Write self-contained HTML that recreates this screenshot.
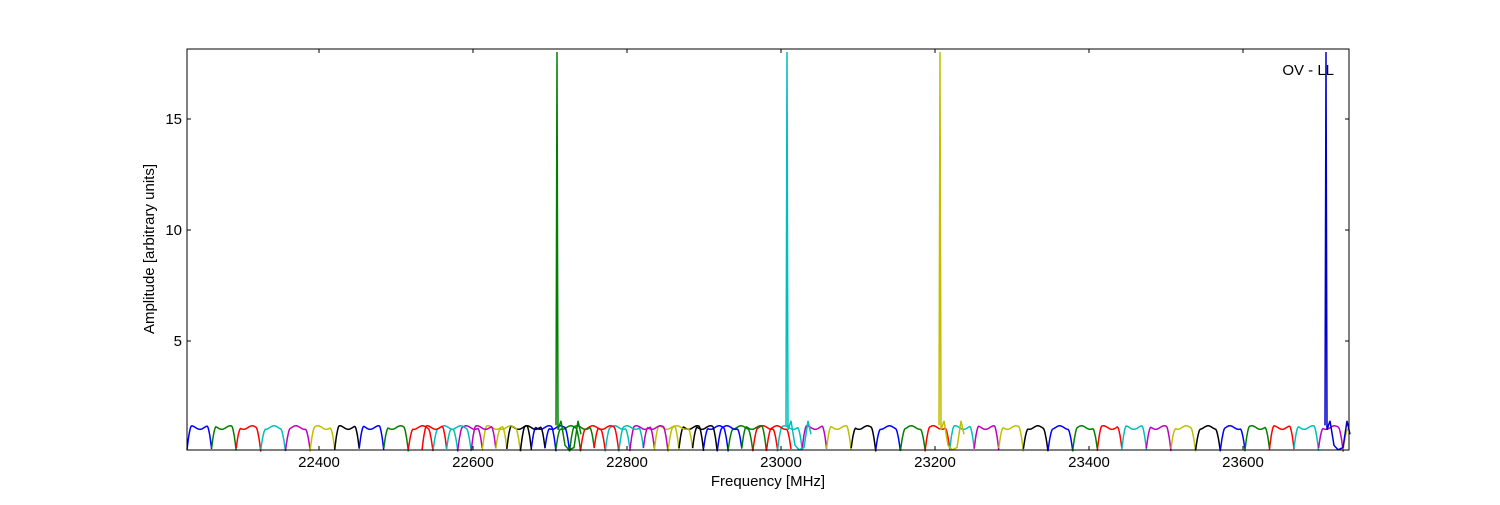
<!DOCTYPE html>
<html><head><meta charset="utf-8"><style>
body{margin:0;background:#fff;}
svg{font-family:"Liberation Sans",sans-serif;}
</style></head><body>
<svg id="s" width="1500" height="500" xmlns="http://www.w3.org/2000/svg">
<rect width="1500" height="500" fill="#fff"/>
<g id="d"></g>
<rect x="187" y="49" width="1162" height="401" fill="none" stroke="#000" stroke-width="1"/>
<g stroke="#000" stroke-width="1" id="ticks"></g>
<g font-size="15" text-anchor="middle" fill="#000">
<text x="319" y="467">22400</text><text x="473" y="467">22600</text><text x="627" y="467">22800</text>
<text x="781" y="467">23000</text><text x="935" y="467">23200</text><text x="1089" y="467">23400</text><text x="1243" y="467">23600</text>
<text x="768" y="486">Frequency [MHz]</text>
</g>
<g font-size="15" text-anchor="end">
<text x="182" y="346">5</text><text x="182" y="235">10</text><text x="182" y="124">15</text>
</g>
<text x="154" y="249" font-size="15" text-anchor="middle" transform="rotate(-90 154 249)">Amplitude [arbitrary units]</text>
<text x="1334" y="75" font-size="15" text-anchor="end">OV - LL</text>
</svg>
<script>
var cols=["#0000ff","#008000","#ff0000","#00bfbf","#bf00bf","#bfbf00","#000000"];
var g=document.getElementById('d'),ns="http://www.w3.org/2000/svg";
function Y(v){return 452-v*22.2;}
function chan(x0,w,c,seed){
 var d="";for(var i=0;i<=40;i++){var t=i/40;var e=Math.min(t,1-t)*2;var u=Math.min(1,e*2.6);var v=0.1+1.0*Math.sin(u*Math.PI/2)+0.08*Math.sin(seed+t*9);
 var x=x0+t*w;var y=Y(v);if(x<187)continue;if(x>1349)break;d+=(d?"L":"M")+x.toFixed(1)+","+y.toFixed(1);}
 var p=document.createElementNS(ns,"path");p.setAttribute("d",d);p.setAttribute("fill","none");p.setAttribute("stroke",c);p.setAttribute("stroke-width","1.5");g.appendChild(p);}
var w=24.6,k=0;
for(var x=187;x<1349;x+=w){chan(x,w,cols[k%7],k);k++;}
k=2;for(var x=422;x<780;x+=w){chan(x,w,cols[k%7],k*3);k++;}
function spike(x,c){var p=document.createElementNS(ns,"path");
 p.setAttribute("d","M"+(x-1)+","+Y(1.2)+"L"+x+",52L"+(x+1)+","+Y(1.0)+"L"+(x+4)+","+Y(1.4)+"L"+(x+8)+","+Y(0.3)+"L"+(x+12)+","+Y(0.1)+"L"+(x+17)+","+Y(0.2)+"L"+(x+21)+","+Y(1.4)+"L"+(x+24)+","+Y(0.8));
 p.setAttribute("fill","none");p.setAttribute("stroke",c);p.setAttribute("stroke-width","1.5");g.appendChild(p);}
spike(557,"#008000");spike(787,"#00bfbf");spike(940,"#bfbf00");spike(1326,"#0000cc");
var t=document.getElementById('ticks'),s="";
[319,473,627,781,935,1089,1243].forEach(function(x){s+='<line x1="'+x+'" y1="450" x2="'+x+'" y2="446"/><line x1="'+x+'" y1="49" x2="'+x+'" y2="53"/>';});
[341,230,119].forEach(function(y){s+='<line x1="187" y1="'+y+'" x2="191" y2="'+y+'"/><line x1="1349" y1="'+y+'" x2="1345" y2="'+y+'"/>';});
t.innerHTML=s;
</script>
</body></html>
